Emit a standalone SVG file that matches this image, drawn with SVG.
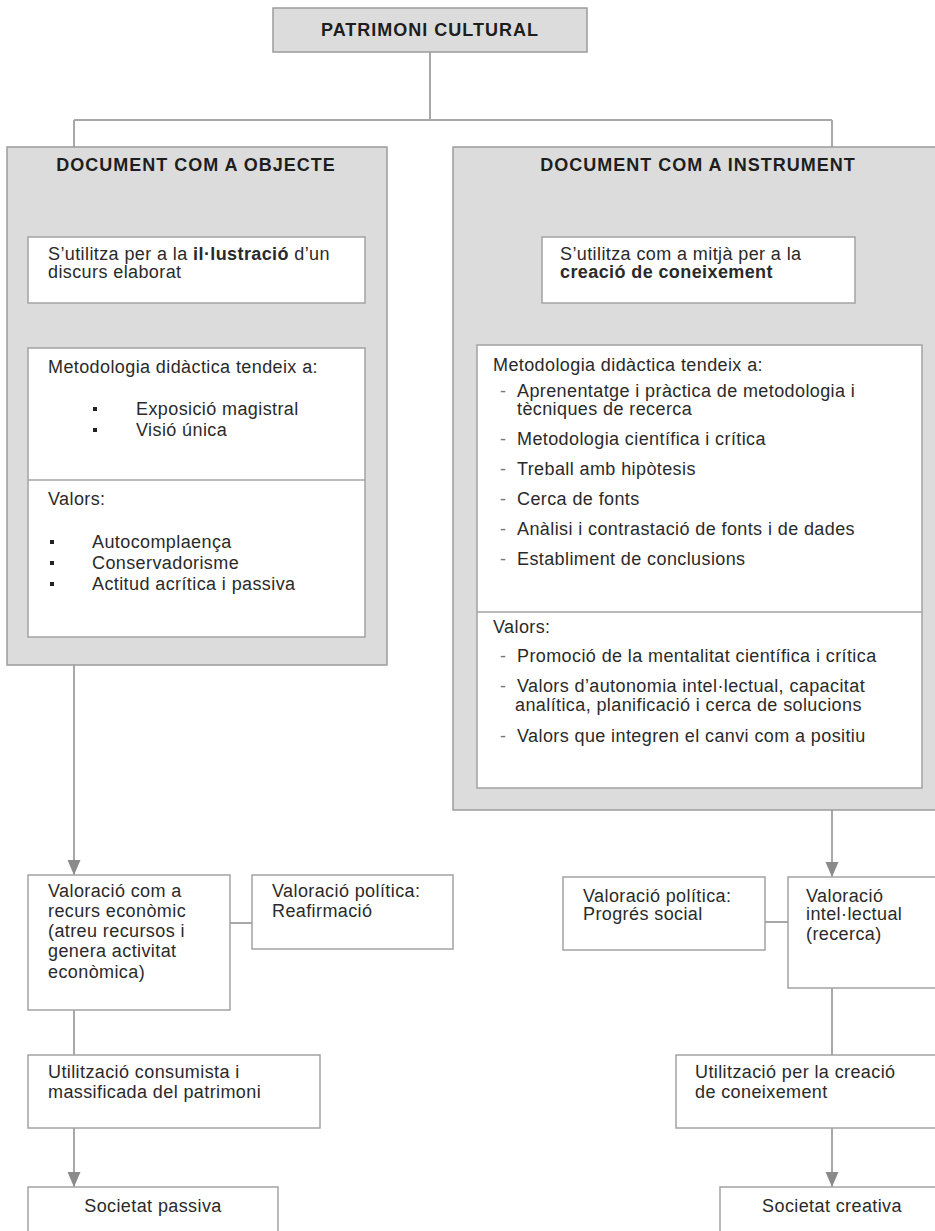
<svg xmlns="http://www.w3.org/2000/svg" width="935" height="1231" viewBox="0 0 935 1231">
<style>
.panel{fill:#dcdcdc;stroke:#9c9c9c;stroke-width:1.5}
.box{fill:#ffffff;stroke:#a3a3a3;stroke-width:1.5}
.ln{stroke:#a8a8a8;stroke-width:2;fill:none}
.t{font-family:"Liberation Sans",Arial,sans-serif;font-size:18px;letter-spacing:0.4px;fill:#2a2a2a}
.b{font-weight:bold}
.h{font-family:"Liberation Sans",Arial,sans-serif;font-size:18px;font-weight:bold;letter-spacing:1px;fill:#1e1e1e}
.d{fill:#777}
.sq{fill:#222}
</style>
<defs>
<marker id="ah" markerUnits="userSpaceOnUse" markerWidth="16" markerHeight="14" refX="15" refY="6.5" orient="auto">
<path d="M0,0 L15,6.5 L0,13 z" fill="#8a8a8a"/>
</marker>
</defs>

<g id="connectors">
<path class="ln" d="M430,52 V120 M74,120 H832 M74,120 V147 M832,120 V147"/>
<path class="ln" d="M187,303 V348" marker-end="url(#ah)"/>
<path class="ln" d="M698,303 V345" marker-end="url(#ah)"/>
<path class="ln" d="M74,665 V875" marker-end="url(#ah)"/>
<path class="ln" d="M230,923 H252"/>
<path class="ln" d="M74,1010 V1055"/>
<path class="ln" d="M74,1128 V1187" marker-end="url(#ah)"/>
<path class="ln" d="M832,810 V877" marker-end="url(#ah)"/>
<path class="ln" d="M765,922 H788"/>
<path class="ln" d="M832,988 V1055"/>
<path class="ln" d="M832,1128 V1187" marker-end="url(#ah)"/>
</g>

<g id="patrimoni">
<rect class="panel" x="273" y="8" width="314" height="44"/>
<text class="h" x="430" y="36" text-anchor="middle">PATRIMONI CULTURAL</text>
</g>

<g id="objecte">
<rect class="panel" x="7" y="147" width="380" height="518"/>
<text class="h" x="196" y="171" text-anchor="middle">DOCUMENT COM A OBJECTE</text>
</g>

<g id="objecte-us">
<rect class="box" x="28" y="237" width="337" height="66"/>
<text class="t" x="48" y="260">S’utilitza per a la <tspan class="b">il·lustració</tspan> d’un</text>
<text class="t" x="48" y="278">discurs elaborat</text>
</g>

<g id="objecte-metodologia">
<rect class="box" x="28" y="348" width="337" height="289"/>
<line x1="28" y1="480" x2="365" y2="480" stroke="#a3a3a3" stroke-width="1.5"/>
<text class="t" x="48" y="373">Metodologia didàctica tendeix a:</text>
<rect class="sq" x="93" y="407" width="4" height="4"/>
<text class="t" x="136" y="415">Exposició magistral</text>
<rect class="sq" x="93" y="428" width="4" height="4"/>
<text class="t" x="136" y="436">Visió única</text>
<text class="t" x="48" y="505">Valors:</text>
<rect class="sq" x="50" y="540" width="4" height="4"/>
<text class="t" x="92" y="548">Autocomplaença</text>
<rect class="sq" x="50" y="561" width="4" height="4"/>
<text class="t" x="92" y="569">Conservadorisme</text>
<rect class="sq" x="50" y="582" width="4" height="4"/>
<text class="t" x="92" y="590">Actitud acrítica i passiva</text>
</g>

<g id="instrument">
<rect class="panel" x="453" y="147" width="486" height="663"/>
<text class="h" x="698" y="171" text-anchor="middle">DOCUMENT COM A INSTRUMENT</text>
</g>

<g id="instrument-us">
<rect class="box" x="542" y="237" width="313" height="66"/>
<text class="t" x="560" y="260">S’utilitza com a mitjà per a la</text>
<text class="t b" x="560" y="278">creació de coneixement</text>
</g>

<g id="instrument-metodologia">
<rect class="box" x="477" y="345" width="445" height="443"/>
<line x1="477" y1="612" x2="922" y2="612" stroke="#a3a3a3" stroke-width="1.5"/>
<text class="t" x="493" y="371">Metodologia didàctica tendeix a:</text>
<text class="t d" x="500" y="397">-</text>
<text class="t" x="517" y="397">Aprenentatge i pràctica de metodologia i</text>
<text class="t" x="517" y="415">tècniques de recerca</text>
<text class="t d" x="500" y="445">-</text>
<text class="t" x="517" y="445">Metodologia científica i crítica</text>
<text class="t d" x="500" y="475">-</text>
<text class="t" x="517" y="475">Treball amb hipòtesis</text>
<text class="t d" x="500" y="505">-</text>
<text class="t" x="517" y="505">Cerca de fonts</text>
<text class="t d" x="500" y="535">-</text>
<text class="t" x="517" y="535">Anàlisi i contrastació de fonts i de dades</text>
<text class="t d" x="500" y="565">-</text>
<text class="t" x="517" y="565">Establiment de conclusions</text>
<text class="t" x="493" y="633">Valors:</text>
<text class="t d" x="500" y="662">-</text>
<text class="t" x="517" y="662">Promoció de la mentalitat científica i crítica</text>
<text class="t d" x="500" y="692">-</text>
<text class="t" x="517" y="692">Valors d’autonomia intel·lectual, capacitat</text>
<text class="t" x="515" y="711">analítica, planificació i cerca de solucions</text>
<text class="t d" x="500" y="742">-</text>
<text class="t" x="517" y="742">Valors que integren el canvi com a positiu</text>
</g>

<g id="recurs-economic">
<rect class="box" x="28" y="875" width="202" height="135"/>
<text class="t" x="48" y="897">Valoració com a</text>
<text class="t" x="48" y="917">recurs econòmic</text>
<text class="t" x="48" y="937">(atreu recursos i</text>
<text class="t" x="48" y="957">genera activitat</text>
<text class="t" x="48" y="978">econòmica)</text>
</g>

<g id="politica-reafirmacio">
<rect class="box" x="252" y="875" width="201" height="74"/>
<text class="t" x="272" y="897">Valoració política:</text>
<text class="t" x="272" y="917">Reafirmació</text>
</g>

<g id="consumista">
<rect class="box" x="28" y="1055" width="292" height="73"/>
<text class="t" x="48" y="1078">Utilització consumista i</text>
<text class="t" x="48" y="1098">massificada del patrimoni</text>
</g>

<g id="societat-passiva">
<rect class="box" x="28" y="1187" width="250" height="60"/>
<text class="t" x="153" y="1212" text-anchor="middle">Societat passiva</text>
</g>

<g id="politica-progres">
<rect class="box" x="563" y="877" width="202" height="73"/>
<text class="t" x="583" y="902">Valoració política:</text>
<text class="t" x="583" y="920">Progrés social</text>
</g>

<g id="intellectual">
<rect class="box" x="788" y="877" width="152" height="111"/>
<text class="t" x="806" y="902">Valoració</text>
<text class="t" x="806" y="920">intel·lectual</text>
<text class="t" x="806" y="940">(recerca)</text>
</g>

<g id="creacio">
<rect class="box" x="676" y="1055" width="264" height="73"/>
<text class="t" x="695" y="1078">Utilització per la creació</text>
<text class="t" x="695" y="1098">de coneixement</text>
</g>

<g id="societat-creativa">
<rect class="box" x="720" y="1187" width="220" height="60"/>
<text class="t" x="832" y="1212" text-anchor="middle">Societat creativa</text>
</g>
</svg>
